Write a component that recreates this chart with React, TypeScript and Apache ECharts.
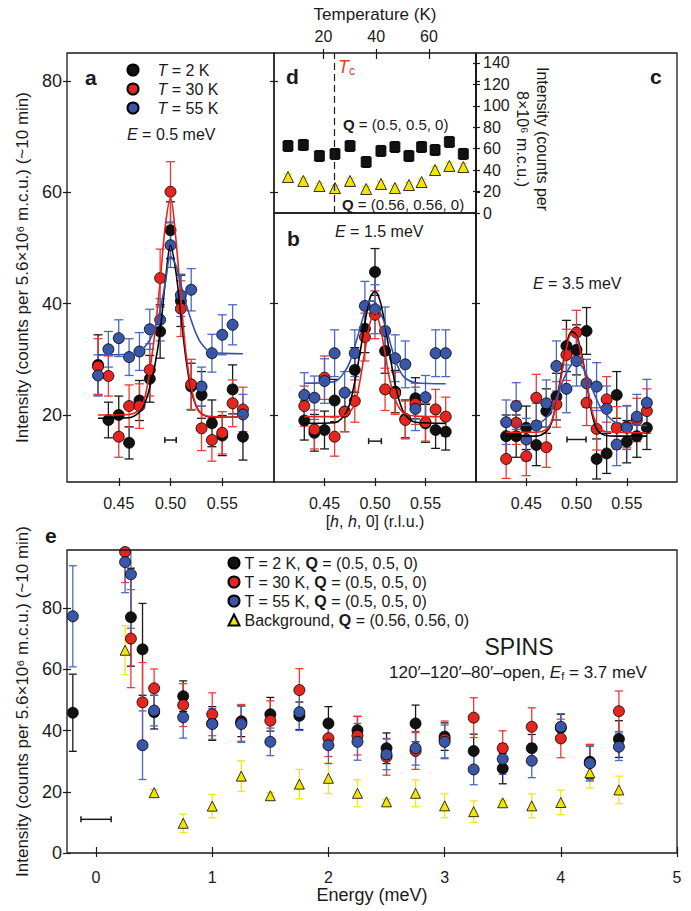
import React, { useEffect, useRef } from "react";
import * as echarts from "echarts";

const FONT = "'Liberation Sans', Arial, Helvetica, sans-serif";
const INK = "#1a1a1a";

const FILL_BLACK = "#121212";
const FILL_RED = "#e3261f";
const FILL_BLUE = "#3a57a7";
const FILL_YELLOW = "#f3e500";
const BAR_BLACK = "#1a1a1a";
const BAR_RED = "#ef3a35";
const BAR_BLUE = "#4a69bf";
const BAR_YELLOW = "#f2e51c";

// ---------- panels a–c : scans along [h, h, 0] ----------
const H = [0.43, 0.44, 0.45, 0.46, 0.47, 0.48, 0.49, 0.5, 0.51, 0.52, 0.53, 0.54, 0.55, 0.56, 0.57];
const H_TICKS = [0.45, 0.5, 0.55];
const I_TICKS = [20, 40, 60, 80];
const B_TICKS = [20, 40];

// a: E = 0.5 meV
const aBlack = [29.0, 19.1, 20.0, 15.0, 22.6, 26.5, 35.0, 53.2, 40.5, 25.1, 23.6, 18.5, 16.3, 24.6, 16.1];
const aBlackErr = [5.4, 3.2, 3.4, 2.9, 3.6, 4.2, 4.8, 5.1, 4.6, 4.2, 4.2, 4.2, 3.6, 4.4, 4.2];
const aRed = [28.7, 27.0, 16.1, 21.6, 21.6, 28.1, 44.6, 60.1, 39.1, 25.5, 17.6, 15.5, 16.8, 22.1, 21.0];
const aRedErr = [5.0, 3.6, 3.7, 3.8, 4.0, 4.7, 5.2, 5.4, 5.0, 4.5, 4.0, 3.8, 3.8, 4.2, 4.0];
const aBlue = [27.1, 31.8, 33.8, 30.4, 31.4, 35.4, 37.1, 50.5, 41.5, 42.5, 25.1, 31.1, 34.4, 36.2, 20.1];
const aBlueErr = [3.7, 3.2, 3.3, 3.3, 3.4, 3.6, 3.8, 4.0, 3.8, 3.8, 3.5, 3.4, 3.6, 3.6, 3.6];

// b: E = 1.5 meV
const bBlack = [19.0, 16.8, 17.3, 22.6, 20.6, 28.1, 35.5, 45.7, 31.5, 24.2, 19.3, 23.0, 18.5, 17.3, 17.0];
const bBlackErr = [3.5, 3.3, 3.4, 3.8, 3.6, 4.0, 4.3, 4.2, 4.0, 3.8, 3.4, 3.7, 3.4, 3.3, 3.3];
const bRed = [21.6, 17.4, 26.7, 16.1, 20.6, 22.5, 34.0, 38.0, 24.6, 23.9, 19.1, 22.0, 18.7, 21.0, 19.7];
const bRedErr = [3.6, 3.5, 3.9, 3.5, 3.6, 3.8, 4.3, 4.3, 3.8, 3.8, 3.4, 3.7, 3.4, 3.6, 3.5];
const bBlue = [23.6, 23.1, 26.1, 31.1, 24.0, 31.1, 39.6, 39.0, 35.1, 30.2, 29.1, 21.1, 23.2, 31.1, 31.1];
const bBlueErr = [4.0, 3.9, 4.0, 4.2, 3.8, 4.2, 4.4, 4.4, 4.3, 4.2, 4.2, 3.9, 3.9, 4.2, 4.2];

// c: E = 3.5 meV
const cBlack = [16.2, 16.2, 17.7, 14.6, 20.7, 23.3, 32.4, 31.7, 35.1, 12.1, 13.1, 23.6, 15.2, 16.2, 17.7];
const cBlackErr = [3.8, 3.8, 3.9, 3.7, 4.0, 4.2, 4.6, 4.5, 4.2, 3.6, 3.6, 4.2, 3.8, 3.8, 3.9];
const cRed = [12.1, 18.6, 12.6, 23.1, 14.2, 21.9, 30.8, 34.8, 22.2, 17.5, 22.8, 17.7, 17.9, 19.1, 20.7];
const cRedErr = [3.5, 3.9, 3.5, 4.2, 3.6, 4.1, 4.6, 4.0, 4.1, 3.8, 4.1, 3.8, 3.8, 3.9, 4.0];
const cBlue = [18.7, 21.6, 15.6, 18.1, 22.1, 28.8, 24.7, 29.7, 25.7, 25.1, 21.1, 14.7, 17.7, 19.7, 22.2];
const cBlueErr = [4.0, 4.2, 3.8, 4.0, 4.2, 4.5, 4.3, 4.5, 4.3, 4.3, 4.1, 3.8, 3.9, 4.0, 4.2];

// fitted curves at these h values
const FIT_H = [0.43, 0.46, 0.47, 0.475, 0.48, 0.485, 0.49, 0.495, 0.5, 0.505, 0.51, 0.515, 0.52, 0.525, 0.53, 0.54, 0.57];
const aBlackFit = [19.4, 19.5, 20.5, 22.0, 25.0, 29.0, 35.0, 44.0, 50.5, 46.0, 38.0, 30.0, 24.5, 21.5, 20.2, 19.6, 19.6];
const aRedFit = [20.0, 20.1, 21.0, 23.0, 28.0, 35.0, 44.0, 54.0, 59.0, 52.0, 41.0, 31.0, 25.0, 21.5, 20.2, 19.7, 19.6];
const aBlueFit = [30.8, 30.9, 31.4, 32.2, 33.5, 35.5, 38.9, 43.7, 48.5, 47.0, 43.5, 40.0, 37.0, 34.5, 32.8, 31.2, 31.0];
const bBlackFit = [18.5, 18.6, 20.0, 22.0, 26.0, 31.0, 36.5, 41.0, 42.2, 40.5, 36.0, 30.5, 25.5, 22.0, 20.0, 18.7, 18.5];
const bRedFit = [19.7, 19.7, 19.9, 20.5, 22.0, 26.0, 31.5, 36.5, 38.4, 36.0, 31.0, 26.0, 22.8, 21.0, 20.2, 19.8, 19.7];
const bBlueFit = [25.7, 26.0, 27.8, 29.5, 32.3, 35.5, 38.6, 40.5, 40.3, 38.5, 36.2, 33.0, 29.9, 27.8, 26.6, 25.8, 25.6];
const cBlackFit = [16.2, 16.2, 17.0, 18.5, 22.5, 27.5, 32.5, 35.0, 34.3, 31.0, 26.0, 20.5, 17.5, 16.6, 16.3, 16.2, 16.2];
const cRedFit = [16.9, 16.9, 17.4, 18.8, 22.0, 27.0, 32.0, 34.5, 34.0, 30.5, 26.0, 21.0, 18.3, 17.3, 17.0, 16.9, 16.8];
const cBlueFit = [18.1, 18.3, 19.5, 20.8, 23.0, 25.5, 27.5, 29.0, 29.4, 28.8, 27.2, 25.0, 22.8, 21.0, 20.0, 18.6, 18.1];

// instrument resolution bars (centre, half-width, level) for a, b, c
const RES_CENTER = 0.5;
const RES_HALF = [0.0055, 0.0063, 0.0095];
const RES_LEVEL = [15.5, 15.3, 15.6];

// ---------- panel d : temperature dependence ----------
const TEMPS = [6.6, 12.4, 18.5, 24.4, 30.1, 36.2, 41.8, 47.1, 52.4, 57.2, 62.3, 67.7, 73.0];
const T_TICKS = [20, 40, 60];
const D_TICKS = [0, 20, 40, 60, 80, 100, 120, 140];
const dPeak = [62.5, 63.5, 53.2, 55.1, 62.5, 47.6, 57.9, 61.6, 53.2, 61.6, 58.8, 66.3, 55.1];
const dPeakErr = [5, 5, 5, 5, 5, 5, 5, 5, 5, 5, 5, 5, 5];
const dBg = [33.6, 29.9, 25.2, 23.3, 29.9, 22.4, 27.1, 23.3, 26.1, 28.9, 40.1, 43.9, 42.9];
const dBgErr = [2.5, 2.5, 2.5, 2.5, 2.5, 2.5, 2.5, 2.5, 2.5, 2.5, 3, 3, 3.5];
const TC_K = 24;

// ---------- panel e : energy dependence ----------
const E_TICKS = [0, 1, 2, 3, 4, 5];
const EI_TICKS = [0, 20, 40, 60, 80];
const eBlackE = [-0.2, 0.3, 0.4, 0.5, 0.75, 1.0, 1.25, 1.5, 1.75, 2.0, 2.25, 2.5, 2.75, 3.0, 3.25, 3.5, 3.75, 4.0, 4.25, 4.5];
const eBlack = [45.8, 77.0, 66.5, 46.0, 51.2, 42.3, 43.0, 45.3, 44.8, 42.3, 40.1, 34.2, 42.3, 38.0, 33.3, 27.6, 34.2, 40.8, 29.8, 37.2];
const eBlackErr = [12.6, 16.0, 15.0, 5.5, 5.0, 5.5, 5.0, 5.5, 4.5, 5.5, 4.5, 5.0, 6.0, 4.5, 5.5, 5.0, 4.5, 4.5, 5.5, 6.0];
const eRedE = [0.25, 0.3, 0.4, 0.5, 0.75, 1.0, 1.25, 1.5, 1.75, 2.0, 2.25, 2.5, 2.75, 3.0, 3.25, 3.5, 3.75, 4.0, 4.25, 4.5];
const eRed = [98.3, 70.0, 49.2, 53.8, 48.3, 45.3, 42.5, 43.2, 53.2, 37.5, 38.3, 31.4, 33.3, 37.1, 44.2, 34.2, 41.2, 37.4, 29.5, 46.3];
const eRedErr = [10.0, 16.0, 13.0, 6.3, 7.0, 7.0, 6.0, 6.5, 7.0, 6.0, 6.3, 6.0, 6.0, 6.0, 6.5, 5.7, 6.2, 6.3, 6.0, 6.6];
const eBlueE = [-0.2, 0.25, 0.3, 0.4, 0.5, 0.75, 1.0, 1.25, 1.5, 1.75, 2.0, 2.25, 2.5, 2.75, 3.0, 3.25, 3.5, 3.75, 4.0, 4.25, 4.5];
const eBlue = [77.3, 95.0, 91.0, 35.2, 46.5, 44.3, 42.1, 42.1, 36.3, 46.0, 35.2, 36.3, 32.2, 34.2, 36.3, 27.3, 30.7, 30.1, 41.2, 29.3, 34.7];
const eBlueErr = [16.5, 10.0, 17.6, 11.2, 5.0, 6.8, 5.0, 6.0, 4.5, 6.0, 6.0, 6.0, 5.0, 5.5, 5.5, 5.0, 5.0, 5.5, 4.3, 5.5, 4.5];
const eBgE = [0.25, 0.5, 0.75, 1.0, 1.25, 1.5, 1.75, 2.0, 2.25, 2.5, 2.75, 3.0, 3.25, 3.5, 3.75, 4.0, 4.25, 4.5];
const eBg = [66.2, 19.7, 9.7, 15.3, 25.1, 18.7, 22.5, 24.4, 19.5, 16.7, 19.5, 15.4, 13.5, 16.4, 15.4, 16.5, 26.2, 20.6];
const eBgErr = [8.0, 1.0, 3.0, 3.8, 5.0, 1.0, 4.8, 5.0, 4.4, 0.8, 4.4, 3.9, 3.5, 0.8, 3.9, 4.0, 5.0, 4.5];
const RES_E_CENTER = 0;
const RES_E_HALF = 0.13;
const RES_E_LEVEL = 11;

const TEMP_NAMES = ["T = 2 K", "T = 30 K", "T = 55 K"];
const E_NAMES = [
  "T = 2 K, Q = (0.5, 0.5, 0)",
  "T = 30 K, Q = (0.5, 0.5, 0)",
  "T = 55 K, Q = (0.5, 0.5, 0)",
  "Background, Q = (0.56, 0.56, 0)",
];
const Y_TITLE = "Intensity (counts per 5.6×10⁶ m.c.u.) (~10 min)";

// axis ranges
const H_MIN = 0.4, H_MAX = 0.6;
const I_MIN = 7.96, I_MAX = 85.03, B_MAX = 56.29;
const T_MIN = 1.3, T_MAX = 77.8, D_MAX = 149.3;
const E_MIN = -0.25, E_MAX = 5, EI_MAX = 98.94;

function ax(o: any) {
  const a: any = {
    type: "value",
    gridIndex: o.grid,
    min: o.min,
    max: o.max,
    position: o.position,
    splitLine: { show: false },
    axisLine: { show: false, onZero: false },
    axisTick: { show: true, inside: o.inside, length: o.len, customValues: o.ticks, lineStyle: { color: INK, width: 1.2 } },
    axisLabel: o.label
      ? { show: true, customValues: o.ticks, fontSize: 16, fontFamily: FONT, color: INK, ...o.label }
      : { show: false },
    silent: true,
  };
  if (o.name) {
    a.name = o.name;
    a.nameLocation = "middle";
    a.nameGap = o.nameGap;
    if (o.nameRotate !== undefined) a.nameRotate = o.nameRotate;
    a.nameTextStyle = { fontFamily: FONT, color: INK, fontSize: 17, ...(o.nameStyle || {}) };
  }
  return a;
}

function errSeries(xi: number, yi: number, xs: number[], ys: number[], es: number[], color: string, cap: number, yMax: number) {
  return {
    type: "custom",
    xAxisIndex: xi,
    yAxisIndex: yi,
    z: 2,
    silent: true,
    data: xs.map((x, i) => [x, ys[i], es[i]]),
    encode: { x: 0, y: 1 },
    renderItem: (_p: any, api: any) => {
      const x = api.value(0), y = api.value(1), e = api.value(2);
      const topV = Math.min(y + e, yMax);
      const t = api.coord([x, topV]);
      const b = api.coord([x, y - e]);
      const st = { stroke: color, lineWidth: 1.3, fill: null };
      const ch: any[] = [
        { type: "line", shape: { x1: t[0], y1: t[1], x2: b[0], y2: b[1] }, style: st },
        { type: "line", shape: { x1: b[0] - cap, y1: b[1], x2: b[0] + cap, y2: b[1] }, style: st },
      ];
      if (y + e < yMax) ch.push({ type: "line", shape: { x1: t[0] - cap, y1: t[1], x2: t[0] + cap, y2: t[1] }, style: st });
      return { type: "group", children: ch };
    },
  };
}

function dotSeries(name: string | undefined, xi: number, yi: number, xs: number[], ys: number[], color: string, symbol = "circle", size = 11) {
  const s: any = {
    type: "scatter",
    xAxisIndex: xi,
    yAxisIndex: yi,
    z: 3,
    symbol,
    symbolSize: size,
    silent: true,
    data: xs.map((x, i) => [x, ys[i]]),
    itemStyle: { color, borderColor: "#000", borderWidth: 0.8, opacity: 1 },
    emphasis: { disabled: true },
  };
  if (name) s.name = name;
  return s;
}

function fitSeries(xi: number, yi: number, ys: number[], color: string) {
  return {
    type: "line",
    xAxisIndex: xi,
    yAxisIndex: yi,
    z: 4,
    silent: true,
    showSymbol: false,
    symbol: "none",
    smooth: 0.35,
    data: FIT_H.map((x, i) => [x, ys[i]]),
    itemStyle: { color },
    lineStyle: { color, width: 1.6 },
  };
}

function resSeries(xi: number, yi: number, c: number, level: number, half: number) {
  return {
    type: "custom",
    xAxisIndex: xi,
    yAxisIndex: yi,
    z: 3,
    silent: true,
    data: [[c, level, half]],
    encode: { x: 0, y: 1 },
    renderItem: (_p: any, api: any) => {
      const l = api.coord([api.value(0) - api.value(2), api.value(1)]);
      const r = api.coord([api.value(0) + api.value(2), api.value(1)]);
      const st = { stroke: INK, lineWidth: 1.5, fill: null };
      return {
        type: "group",
        children: [
          { type: "line", shape: { x1: l[0], y1: l[1], x2: r[0], y2: r[1] }, style: st },
          { type: "line", shape: { x1: l[0], y1: l[1] - 3, x2: l[0], y2: l[1] + 3 }, style: st },
          { type: "line", shape: { x1: r[0], y1: r[1] - 3, x2: r[0], y2: r[1] + 3 }, style: st },
        ],
      };
    },
  };
}

function txt(x: number, y: number, text: string, extra: any = {}) {
  return {
    type: "text",
    x,
    y,
    silent: true,
    z: 20,
    style: { text, fill: INK, fontFamily: FONT, fontSize: 16, align: "left", verticalAlign: "middle", ...extra },
  };
}

function frame(x: number, y: number, w: number, h: number, lw = 1.3) {
  return {
    type: "rect",
    silent: true,
    z: 10,
    shape: { x, y, width: w, height: h },
    style: { fill: "transparent", stroke: INK, lineWidth: lw },
  };
}

function buildOption(): any {
  const fmtH = (v: number) => v.toFixed(2);
  const italic = { fontStyle: "italic", fontSize: 16, fontFamily: FONT, color: INK, fill: INK };

  const xAxis = [
    ax({ grid: 0, min: H_MIN, max: H_MAX, position: "bottom", ticks: H_TICKS, inside: true, len: 4, label: { margin: 13, formatter: fmtH } }),
    ax({ grid: 0, min: H_MIN, max: H_MAX, position: "bottom", ticks: H_TICKS, inside: false, len: 4 }),
    ax({
      grid: 1, min: H_MIN, max: H_MAX, position: "bottom", ticks: H_TICKS, inside: true, len: 4,
      label: { margin: 13, formatter: fmtH },
      name: "[{i|h}, {i|h}, 0] (r.l.u.)", nameGap: 31,
      nameStyle: { fontSize: 16, rich: { i: italic } },
    }),
    ax({ grid: 1, min: H_MIN, max: H_MAX, position: "bottom", ticks: H_TICKS, inside: false, len: 4 }),
    ax({ grid: 2, min: H_MIN, max: H_MAX, position: "bottom", ticks: H_TICKS, inside: true, len: 4, label: { margin: 13, formatter: fmtH } }),
    ax({ grid: 2, min: H_MIN, max: H_MAX, position: "bottom", ticks: H_TICKS, inside: false, len: 4 }),
    ax({ grid: 3, min: T_MIN, max: T_MAX, position: "top", ticks: T_TICKS, inside: true, len: 6, label: { margin: 9 }, name: "Temperature (K)", nameGap: 30 }),
    ax({ grid: 3, min: T_MIN, max: T_MAX, position: "top", ticks: T_TICKS, inside: false, len: 4 }),
    ax({ grid: 4, min: E_MIN, max: E_MAX, position: "bottom", ticks: E_TICKS, inside: true, len: 6, label: { margin: 16 }, name: "Energy (meV)", nameGap: 31, nameStyle: { fontSize: 18 } }),
    ax({ grid: 4, min: E_MIN, max: E_MAX, position: "bottom", ticks: E_TICKS, inside: false, len: 4 }),
  ];
  const X_A = 0, X_B = 2, X_C = 4, X_D = 6, X_E = 8;

  const yAxis = [
    ax({ grid: 0, min: I_MIN, max: I_MAX, position: "left", ticks: I_TICKS, inside: false, len: 4, label: { margin: 5, fontSize: 18 }, name: Y_TITLE, nameGap: 36, nameRotate: 90 }),
    ax({ grid: 0, min: I_MIN, max: I_MAX, position: "left", ticks: I_TICKS, inside: true, len: 4 }),
    ax({ grid: 0, min: I_MIN, max: I_MAX, position: "right", ticks: I_TICKS, inside: true, len: 4 }),
    ax({ grid: 0, min: I_MIN, max: I_MAX, position: "right", ticks: I_TICKS, inside: false, len: 4 }),
    ax({ grid: 1, min: I_MIN, max: B_MAX, position: "right", ticks: B_TICKS, inside: true, len: 4 }),
    ax({ grid: 2, min: I_MIN, max: I_MAX, position: "left", ticks: I_TICKS, inside: true, len: 4 }),
    ax({ grid: 3, min: 0, max: D_MAX, position: "right", ticks: D_TICKS, inside: false, len: 4, label: { margin: 7 } }),
    ax({ grid: 3, min: 0, max: D_MAX, position: "right", ticks: D_TICKS, inside: true, len: 3 }),
    ax({ grid: 4, min: 0, max: EI_MAX, position: "left", ticks: EI_TICKS, inside: false, len: 4, label: { margin: 5, fontSize: 18 }, name: Y_TITLE, nameGap: 36, nameRotate: 90 }),
    ax({ grid: 4, min: 0, max: EI_MAX, position: "left", ticks: EI_TICKS, inside: true, len: 4 }),
  ];
  const Y_A = 0, Y_B = 4, Y_C = 5, Y_D = 6, Y_E = 8;

  const panels = [
    { xi: X_A, yi: Y_A, yMax: I_MAX, d: [aBlack, aRed, aBlue], e: [aBlackErr, aRedErr, aBlueErr], f: [aBlackFit, aRedFit, aBlueFit] },
    { xi: X_B, yi: Y_B, yMax: B_MAX, d: [bBlack, bRed, bBlue], e: [bBlackErr, bRedErr, bBlueErr], f: [bBlackFit, bRedFit, bBlueFit] },
    { xi: X_C, yi: Y_C, yMax: I_MAX, d: [cBlack, cRed, cBlue], e: [cBlackErr, cRedErr, cBlueErr], f: [cBlackFit, cRedFit, cBlueFit] },
  ];
  const fills = [FILL_BLACK, FILL_RED, FILL_BLUE];
  const bars = [BAR_BLACK, BAR_RED, BAR_BLUE];
  const lines = ["#000000", "#e8231d", "#3552a8"];

  const series: any[] = [];
  panels.forEach((p, pi) => {
    for (let k = 0; k < 3; k++) series.push(errSeries(p.xi, p.yi, H, p.d[k], p.e[k], bars[k], 4.5, p.yMax));
    for (let k = 0; k < 3; k++) series.push(dotSeries(TEMP_NAMES[k], p.xi, p.yi, H, p.d[k], fills[k]));
    for (let k = 0; k < 3; k++) series.push(fitSeries(p.xi, p.yi, p.f[k], lines[k]));
    series.push(resSeries(p.xi, p.yi, RES_CENTER, RES_LEVEL[pi], RES_HALF[pi]));
  });

  // panel d
  series.push(errSeries(X_D, Y_D, TEMPS, dPeak, dPeakErr, BAR_BLACK, 4, D_MAX));
  series.push(errSeries(X_D, Y_D, TEMPS, dBg, dBgErr, BAR_YELLOW, 4, D_MAX));
  const sq = dotSeries(undefined, X_D, Y_D, TEMPS, dPeak, FILL_BLACK, "rect", 10);
  sq.markLine = {
    silent: true,
    symbol: ["none", "none"],
    label: { show: false },
    lineStyle: { color: INK, type: [7, 4], width: 1.2 },
    data: [{ xAxis: TC_K }],
  };
  series.push(sq);
  series.push(dotSeries(undefined, X_D, Y_D, TEMPS, dBg, FILL_YELLOW, "triangle", 11));

  // panel e
  series.push(errSeries(X_E, Y_E, eBgE, eBg, eBgErr, BAR_YELLOW, 4, EI_MAX));
  series.push(errSeries(X_E, Y_E, eBlackE, eBlack, eBlackErr, BAR_BLACK, 4, EI_MAX));
  series.push(errSeries(X_E, Y_E, eRedE, eRed, eRedErr, BAR_RED, 4, EI_MAX));
  series.push(errSeries(X_E, Y_E, eBlueE, eBlue, eBlueErr, BAR_BLUE, 4, EI_MAX));
  series.push(dotSeries(E_NAMES[3], X_E, Y_E, eBgE, eBg, FILL_YELLOW, "triangle", 10));
  series.push(dotSeries(E_NAMES[0], X_E, Y_E, eBlackE, eBlack, FILL_BLACK));
  series.push(dotSeries(E_NAMES[1], X_E, Y_E, eRedE, eRed, FILL_RED));
  series.push(dotSeries(E_NAMES[2], X_E, Y_E, eBlueE, eBlue, FILL_BLUE));
  series.push(resSeries(X_E, Y_E, RES_E_CENTER, RES_E_LEVEL, RES_E_HALF));

  const richItalic = { i: { fontStyle: "italic", fontSize: 16, fontFamily: FONT, fill: INK } };
  const richQ = { b: { fontWeight: "bold", fontSize: 15, fontFamily: FONT, fill: INK } };

  const graphic = [
    frame(67, 53, 207, 429),
    frame(274, 213, 202, 269),
    frame(476, 53, 201, 429),
    frame(274, 53, 202, 160),
    frame(67, 550, 610, 303),
    { type: "line", silent: true, z: 11, shape: { x1: 476, y1: 53, x2: 476, y2: 482 }, style: { stroke: INK, lineWidth: 2 } },
    txt(85, 77, "a", { fontSize: 21, fontWeight: "bold" }),
    txt(286, 76, "d", { fontSize: 21, fontWeight: "bold" }),
    txt(287, 238, "b", { fontSize: 21, fontWeight: "bold" }),
    txt(650, 76, "c", { fontSize: 21, fontWeight: "bold" }),
    txt(45, 535, "e", { fontSize: 21, fontWeight: "bold" }),
    txt(127, 134, "{i|E} = 0.5 meV", { rich: richItalic }),
    txt(335, 231, "{i|E} = 1.5 meV", { rich: richItalic }),
    txt(533, 283, "{i|E} = 3.5 meV", { rich: richItalic }),
    txt(343, 124, "{b|Q} = (0.5, 0.5, 0)", { fontSize: 15, rich: richQ }),
    txt(342, 204, "{b|Q} = (0.56, 0.56, 0)", { fontSize: 15, rich: richQ }),
    txt(338, 67, "{t|T}{s|c}", {
      rich: {
        t: { fontStyle: "italic", fontSize: 18, fontFamily: FONT, fill: "#e8402a", lineHeight: 20 },
        s: { fontSize: 12, fontFamily: FONT, fill: "#e8402a", lineHeight: 10, verticalAlign: "bottom" },
      },
    }),
    {
      type: "text",
      x: 532,
      y: 139,
      rotation: -Math.PI / 2,
      silent: true,
      z: 20,
      style: {
        text: "Intensity (counts per\n8×10⁶ m.c.u.)",
        fill: INK,
        fontFamily: FONT,
        fontSize: 16,
        lineHeight: 20,
        align: "center",
        verticalAlign: "middle",
      },
    },
    txt(519, 647, "SPINS", { fontSize: 23, align: "center" }),
    txt(518, 672, "120′–120′–80′–open, {i|E}{s|f} = 3.7 meV", {
      align: "center",
      fontSize: 17,
      rich: {
        i: { fontStyle: "italic", fontSize: 17, fontFamily: FONT, fill: INK, lineHeight: 19 },
        s: { fontSize: 11, fontFamily: FONT, fill: INK, lineHeight: 9, verticalAlign: "bottom" },
      },
    }),
  ];

  return {
    animation: false,
    backgroundColor: "#ffffff",
    textStyle: { fontFamily: FONT },
    grid: [
      { left: 67, top: 53, width: 207, height: 429 },
      { left: 274, top: 213, width: 202, height: 269 },
      { left: 476, top: 53, width: 201, height: 429 },
      { left: 274, top: 53, width: 202, height: 160 },
      { left: 67, top: 550, width: 610, height: 303 },
    ],
    xAxis,
    yAxis,
    legend: [
      {
        data: TEMP_NAMES,
        orient: "vertical",
        left: 126.5,
        top: 62,
        padding: 0,
        itemWidth: 11,
        itemHeight: 11,
        itemGap: 3,
        selectedMode: false,
        formatter: (n: string) => n.replace("T", "{i|T}"),
        textStyle: {
          fontSize: 16,
          lineHeight: 16,
          fontFamily: FONT,
          color: INK,
          padding: [0, 0, 0, 14],
          rich: { i: { fontStyle: "italic", fontSize: 16, lineHeight: 16, fontFamily: FONT, color: INK } },
        },
      },
      {
        data: E_NAMES,
        orient: "vertical",
        left: 227.5,
        top: 555,
        padding: 0,
        itemWidth: 11,
        itemHeight: 11,
        itemGap: 3,
        selectedMode: false,
        formatter: (n: string) => n.replace("Q", "{b|Q}"),
        textStyle: {
          fontSize: 16,
          lineHeight: 16,
          fontFamily: FONT,
          color: INK,
          rich: { b: { fontWeight: "bold", fontSize: 16, lineHeight: 16, fontFamily: FONT, color: INK } },
        },
      },
    ],
    series,
    graphic,
  };
}

export default function App() {
  const ref = useRef<HTMLDivElement>(null);
  useEffect(() => {
    document.body.style.margin = "0";
    const chart = echarts.init(ref.current as HTMLDivElement, null, { renderer: "svg" });
    chart.setOption(buildOption());
    return () => chart.dispose();
  }, []);
  return <div ref={ref} style={{ width: 691, height: 911 }} />;
}
